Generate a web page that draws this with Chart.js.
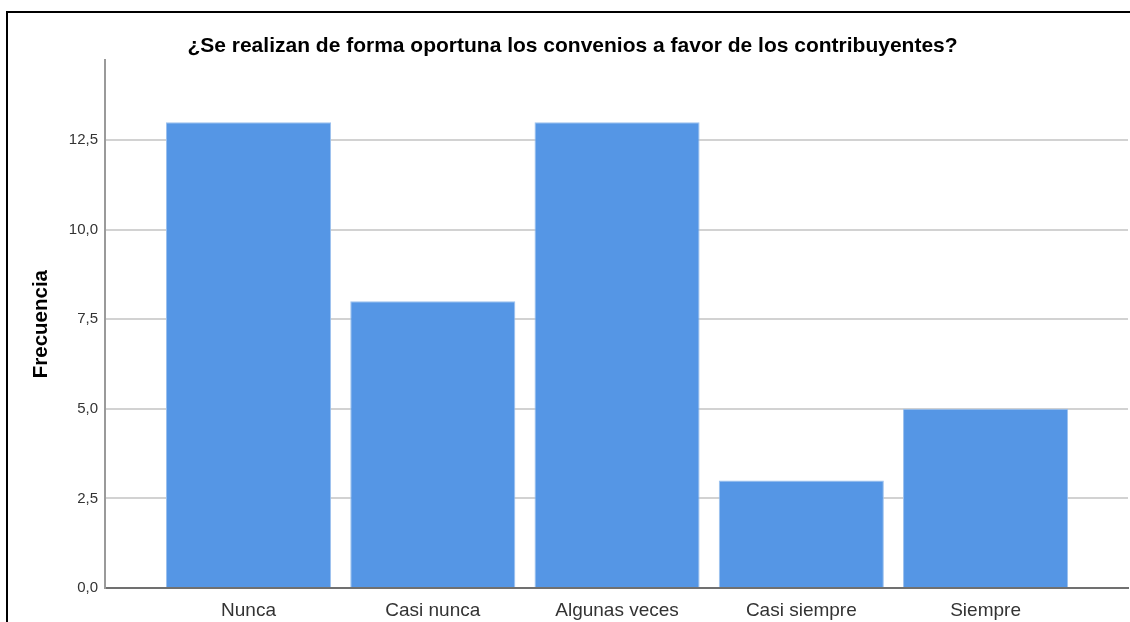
<!DOCTYPE html>
<html>
<head>
<meta charset="utf-8">
<script src="https://cdn.jsdelivr.net/npm/chart.js@4"></script>
<style>
  body { margin: 0; background: #fff; }
  .wrap { position: relative; width: 1130px; height: 622px; overflow: hidden; }
  .marco { position: absolute; left: 6px; top: 11px; right: -10px; bottom: -10px;
           border-left: 2px solid #000; border-top: 2px solid #000; pointer-events: none; }
</style>
</head>
<body>
<div class="wrap">
  <canvas id="grafico" width="1130" height="622"></canvas>
  <div class="marco"></div>
</div>
<script>
// Datos
const categorias = ['Nunca', 'Casi nunca', 'Algunas veces', 'Casi siempre', 'Siempre'];
const frecuencias = [13, 8, 13, 3, 5];
const posiciones = [0, 1, 2, 3, 4];
const titulo = '¿Se realizan de forma oportuna los convenios a favor de los contribuyentes?';

const ctx = document.getElementById('grafico').getContext('2d');
new Chart(ctx, {
    type: 'bar',
    data: {
        datasets: [{
            data: posiciones.map((x, i) => ({ x: x, y: frecuencias[i] })),
            backgroundColor: '#5596e5',
            borderColor: '#9cc1ee',
            borderWidth: 1,
            categoryPercentage: 1,
            barPercentage: 0.896
        }]
    },
    options: {
        responsive: false,
        animation: false,
        layout: { padding: { left: 17, right: 2, top: 0, bottom: 0 } },
        plugins: {
            legend: { display: false },
            tooltip: { enabled: false },
            title: {
                display: true,
                text: titulo,
                color: '#000',
                font: { family: 'Liberation Sans', size: 21, weight: 'bold' },
                padding: { top: 34, bottom: 1 }
            }
        },
        scales: {
            x: {
                type: 'linear',
                offset: false,
                min: -0.779,
                max: 4.773,
                grid: { display: false, drawTicks: false },
                border: { display: true, color: '#707070', width: 2 },
                ticks: {
                    stepSize: 1,
                    includeBounds: false,
                    autoSkip: false,
                    maxRotation: 0,
                    padding: 11,
                    color: '#333',
                    font: { family: 'Liberation Sans', size: 19 },
                    callback: (v) => categorias[v] ?? ''
                },
                afterFit: (scale) => { scale.height = 34; }
            },
            y: {
                min: 0,
                max: 14.73,
                grid: { color: '#d2d2d2', lineWidth: 2, drawTicks: false },
                border: { display: true, color: '#9a9a9a', width: 2 },
                ticks: {
                    stepSize: 2.5,
                    includeBounds: false,
                    padding: 7,
                    color: '#333',
                    font: { family: 'Liberation Sans', size: 15 },
                    callback: (v) => v.toFixed(1).replace('.', ',')
                },
                title: {
                    display: true,
                    text: 'Frecuencia',
                    color: '#000',
                    font: { family: 'Liberation Sans', size: 20.5, weight: 'bold' },
                    padding: { top: 12, bottom: 0 }
                },
                afterFit: (scale) => { scale.width = 88; }
            }
        }
    }
});
</script>
</body>
</html>
